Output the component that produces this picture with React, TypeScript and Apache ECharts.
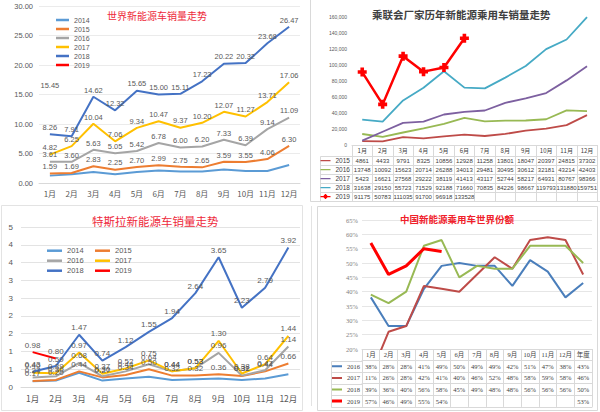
import React, { useEffect, useRef } from 'react';
import * as echarts from 'echarts';

// ---------- categories ----------
const months = ['1月', '2月', '3月', '4月', '5月', '6月', '7月', '8月', '9月', '10月', '11月', '12月'];
const shareCats = [...months, '年度'];

// ---------- 世界新能源车销量走势 (万辆) ----------
const worldYears = ['2014', '2015', '2016', '2017', '2018', '2019'];
const world2014 = [1.25, 1.5, 1.88, 1.48, 1.88, 2.1, 1.95, 1.95, 2.3, 2.03, 2.03, 3.05];
const world2015 = [1.59, 1.69, 2.83, 2.25, 2.7, 2.99, 2.75, 2.65, 3.59, 3.55, 4.06, 6.3];
const world2016 = [3.61, 3.6, 5.63, 5.05, 5.42, 6.78, 6.0, 6.2, 7.33, 6.39, 9.14, 11.09];
const world2017 = [4.82, 6.25, 10.04, 7.06, 9.34, 10.47, 9.37, 10.2, 12.07, 11.27, 13.71, 17.06];
const world2018 = [8.26, 7.91, 14.62, 12.32, 15.65, 15.0, 15.11, 17.23, 20.22, 20.32, 23.68, 26.47];
const world2019 = [15.45];

// ---------- 乘联会厂家历年新能源乘用车销量 ----------
const pcYears = ['2015', '2016', '2017', '2018', '2019'];
const pc2015 = [4861, 4433, 9791, 8325, 10856, 12928, 11258, 13801, 18047, 20397, 24815, 37302];
const pc2016 = [13748, 10092, 15623, 20714, 26288, 34013, 29481, 30495, 30612, 32181, 43214, 42403];
const pc2017 = [5423, 16621, 27568, 29222, 38119, 41413, 43117, 52744, 58217, 64931, 80767, 98366];
const pc2018 = [31638, 29150, 55723, 71529, 92188, 71660, 70835, 84226, 98667, 119793, 131880, 159751];
const pc2019 = [91175, 50783, 111035, 91700, 96918, 133528, null, null, null, null, null, null];

// ---------- 特斯拉新能源车销量走势 (万辆) ----------
const teslaYears = ['2014', '2015', '2016', '2017', '2018', '2019'];
const tesla2014 = [0.16, 0.18, 0.4, 0.18, 0.24, 0.29, 0.2, 0.22, 0.24, 0.2, 0.24, 0.36];
const tesla2015 = [0.17, 0.2, 0.44, 0.27, 0.34, 0.5, 0.32, 0.32, 0.36, 0.31, 0.44, 0.66];
const tesla2016 = [0.27, 0.3, 0.68, 0.3, 0.44, 0.64, 0.44, 0.53, 0.96, 0.32, 0.47, 1.14];
const tesla2017 = [0.4, 0.39, 0.97, 0.37, 0.52, 0.75, 0.44, 0.53, 1.3, 0.38, 0.64, 1.44];
const tesla2018 = [0.43, 0.59, 1.47, 0.74, 1.12, 1.55, 1.94, 2.64, 3.65, 2.23, 2.79, 3.92];
const tesla2019 = [0.98, 0.8];

// ---------- 中国新能源乘用车世界份额 (%) ----------
const shareYears = ['2016', '2017', '2018', '2019'];
const share2016 = [38, 28, 28, 41, 49, 50, 49, 49, 42, 51, 47, 38, 43];
const share2017 = [11, 26, 28, 42, 41, 40, 46, 52, 48, 58, 59, 58, 46];
const share2018 = [39, 36, 40, 56, 58, 45, 49, 48, 48, 56, 56, 56, 50];
const share2019 = [57, 46, 49, 55, 54, null, null, null, null, null, null, null, 53];

// ---------- styling / layout ----------
const LAT = "'Liberation Sans', 'Noto Sans CJK SC', sans-serif";
const CJK = "'Noto Sans CJK SC', 'Liberation Sans', sans-serif";
const SERIF = "'Liberation Serif', 'Noto Sans CJK SC', serif";
const GRAY = '#595959';
const LINE = '#d9d9d9';

const TL = { left: 39, top: 6, width: 261, height: 177 };
const TR = { left: 352, top: 17, width: 246, height: 128 };
const BL = { left: 21, top: 227, width: 279, height: 160 };
const BR = { left: 362, top: 220, width: 230, height: 129 };
const TR_HEAD = 11;
const TR_ROW = 9;
const BR_HEAD = 11.5;
const BR_ROW = 11.6;

const worldColors = ['#5B9BD5', '#ED7D31', '#A5A5A5', '#FFC000', '#4472C4', '#FF0000'];
const pcColors = ['#BE4B48', '#98B954', '#7D60A0', '#46AAC5', '#FF0000'];
const shareColors = ['#4A7EBB', '#BE4B48', '#98B954', '#FF0000'];

const ICON_LINE = 'path://M0,0h0.01v0.01h-0.01z M0,2.9h10v1.3h-10z M10,7h-0.01v-0.01h0.01z';
const ICON_PLUS = 'path://M0,0h0.01v0.01h-0.01z M0,2.9h10v1.3h-10z M3.3,2.1h3.4v2.9h-3.4z M4.2,1.1h1.6v4.9h-1.6z M10,7h-0.01v-0.01h0.01z';
const ICON_L2 = 'path://M0,0h0.01v0.01h-0.01z M0,2.5h10v2h-10z M10,7h-0.01v-0.01h0.01z';
const ICON_L3 = 'path://M0,0h0.01v0.01h-0.01z M0,2h10v3h-10z M10,7h-0.01v-0.01h0.01z';
const PLUS_SYMBOL = 'path://M3,0h4v3h3v4h-3v3h-4v-3h-3v-4h3z';

function lineSeries(
  name: string, data: (number | null)[], color: string, width: number,
  xAxisIndex: number, yAxisIndex: number, labelSize: number | null
) {
  return {
    type: 'line', name, data, xAxisIndex, yAxisIndex,
    symbol: 'circle', symbolSize: 0, showSymbol: true, showAllSymbol: true,
    lineStyle: { color, width }, itemStyle: { color },
    silent: true,
    label: labelSize
      ? {
          show: true, position: 'top', distance: 3, fontSize: labelSize, color: GRAY, fontFamily: LAT,
          formatter: (p: any) => (typeof p.value === 'number' ? p.value.toFixed(2) : ''),
        }
      : { show: false },
  };
}

function rowAxis(gridIndex: number, offset: number, data: string[], fontSize: number, font: string, margin: number) {
  return {
    type: 'category', gridIndex, position: 'bottom', offset, data, boundaryGap: true,
    axisLine: { show: true, lineStyle: { color: LINE, width: 1 } },
    axisTick: { show: false }, splitLine: { show: false },
    axisLabel: { interval: 0, margin, fontSize, fontFamily: font, color: '#404040' },
  };
}

function buildOption() {
  const trBottom = TR.top + TR.height;
  const brBottom = BR.top + BR.height;
  const pcRows = [pc2015, pc2016, pc2017, pc2018, pc2019];
  const shareRows = [share2016, share2017, share2018, share2019];

  const xAxis: any[] = [];
  // 0: top-left
  xAxis.push({
    type: 'category', gridIndex: 0, data: months, boundaryGap: true,
    axisLine: { lineStyle: { color: LINE } }, axisTick: { show: false },
    axisLabel: { interval: 0, fontSize: 8, color: GRAY, margin: 6, fontFamily: CJK },
  });
  // 1: top-right main (table header)
  xAxis.push({
    type: 'category', gridIndex: 1, data: months, boundaryGap: true, position: 'bottom',
    axisLine: { lineStyle: { color: LINE } },
    axisTick: { show: true, interval: 0, alignWithLabel: false, length: TR_HEAD + TR_ROW * pcRows.length, lineStyle: { color: LINE } },
    axisLabel: { interval: 0, fontSize: 6, color: '#404040', margin: 2.5, fontFamily: CJK },
  });
  // 2..6: top-right rows, 7: bottom border
  pcRows.forEach((row, k) => {
    xAxis.push(rowAxis(1, TR_HEAD + TR_ROW * k, row.map(v => (v == null ? '' : String(v))), 6, LAT, 1.5));
  });
  xAxis.push(rowAxis(1, TR_HEAD + TR_ROW * pcRows.length, months.map(() => ''), 6, LAT, 1.5));
  // 8: bottom-left
  xAxis.push({
    type: 'category', gridIndex: 2, data: months, boundaryGap: true,
    axisLine: { lineStyle: { color: LINE } }, axisTick: { show: false },
    axisLabel: { interval: 0, fontSize: 8.5, color: GRAY, margin: 7, fontFamily: CJK },
  });
  // 9: bottom-right main
  xAxis.push({
    type: 'category', gridIndex: 3, data: shareCats, boundaryGap: true, position: 'bottom',
    axisLine: { lineStyle: { color: LINE } },
    axisTick: { show: true, interval: 0, alignWithLabel: false, length: BR_HEAD + BR_ROW * shareRows.length, lineStyle: { color: LINE } },
    axisLabel: { interval: 0, fontSize: 6.5, color: '#404040', margin: 2.5, fontFamily: SERIF },
  });
  // 10..13 rows, 14 bottom border
  shareRows.forEach((row, k) => {
    xAxis.push(rowAxis(3, BR_HEAD + BR_ROW * k, row.map(v => (v == null ? '' : v + '%')), 6.5, SERIF, 2.5));
  });
  xAxis.push(rowAxis(3, BR_HEAD + BR_ROW * shareRows.length, shareCats.map(() => ''), 6.5, SERIF, 2.5));

  const yAxis: any[] = [
    {
      type: 'value', gridIndex: 0, min: 0, max: 30, interval: 5,
      axisLine: { show: false }, axisTick: { show: false },
      splitLine: { lineStyle: { color: '#ebebeb' } },
      axisLabel: { formatter: (v: number) => v.toFixed(2), fontSize: 7.5, color: GRAY, margin: 6, fontFamily: LAT },
    },
    {
      type: 'value', gridIndex: 1, min: 0, max: 160000, interval: 20000,
      axisLine: { show: false }, axisTick: { show: false }, splitLine: { show: false },
      axisLabel: { fontSize: 5, color: GRAY, margin: 5, fontFamily: LAT },
    },
    {
      type: 'value', gridIndex: 2, min: 0, max: 4.5, interval: 0.5,
      axisLine: { show: false }, axisTick: { show: false },
      splitLine: { lineStyle: { color: '#e3e3e3' } },
      axisLabel: { formatter: (v: number) => String(Math.round(v)), fontSize: 8, color: GRAY, margin: 8, fontFamily: LAT },
    },
    {
      type: 'value', gridIndex: 3, min: 20, max: 65, interval: 5,
      axisLine: { show: false }, axisTick: { show: false },
      splitLine: { lineStyle: { color: '#e6e6e6' } },
      axisLabel: { formatter: (v: number) => v + '%', fontSize: 6.5, color: '#7f7f7f', margin: 4, fontFamily: SERIF },
    },
  ];

  const worldData = [world2014, world2015, world2016, world2017, world2018, world2019];
  const teslaData = [tesla2014, tesla2015, tesla2016, tesla2017, tesla2018, tesla2019];

  const series: any[] = [];
  worldYears.forEach((y, i) => {
    series.push(lineSeries('a' + y, worldData[i], worldColors[i], 2, 0, 0, i === 0 ? null : 7.5));
  });
  pcYears.forEach((y, i) => {
    const s: any = lineSeries('b' + y, pcRows[i], pcColors[i], i === 4 ? 2.5 : 1.8, 1, 1, null);
    if (i === 4) {
      s.symbol = PLUS_SYMBOL;
      s.symbolSize = 9;
    }
    series.push(s);
  });
  teslaYears.forEach((y, i) => {
    series.push(lineSeries('c' + y, teslaData[i], worldColors[i], 2, 8, 2, i === 0 ? null : 8));
  });
  shareYears.forEach((y, i) => {
    series.push(lineSeries('d' + y, shareRows[i], shareColors[i], i === 3 ? 3 : 2, 9, 3, null));
  });

  const strip = (n: string) => n.slice(1);
  const legendBase = {
    selectedMode: false, padding: 0, formatter: strip, itemStyle: { borderWidth: 0 },
  };

  const legend: any[] = [
    {
      ...legendBase, orient: 'vertical', left: 56, top: 15.5, itemWidth: 13, itemHeight: 2.5, itemGap: 0, icon: 'rect',
      data: worldYears.map(y => 'a' + y),
      textStyle: { fontSize: 7, color: GRAY, lineHeight: 9, fontFamily: LAT },
    },
    {
      ...legendBase, orient: 'vertical', left: 320.5, top: trBottom + TR_HEAD, itemWidth: 10, itemHeight: 7, itemGap: 0,
      data: pcYears.map((y, i) => ({ name: 'b' + y, icon: i === 4 ? ICON_PLUS : ICON_LINE })),
      textStyle: { fontSize: 6.5, color: '#404040', lineHeight: TR_ROW, fontFamily: LAT },
    },
    ...[0, 1, 2].map(r => ({
      ...legendBase, orient: 'horizontal', left: 47, top: 245.7 + r * 10, itemWidth: 15, itemHeight: 2.5, itemGap: 11.3, icon: 'rect',
      data: teslaYears.slice(r * 2, r * 2 + 2).map(y => 'c' + y),
      textStyle: { fontSize: 7.5, color: GRAY, lineHeight: 10, fontFamily: LAT },
    })),
    {
      ...legendBase, orient: 'vertical', left: 332, top: brBottom + BR_HEAD, itemWidth: 10, itemHeight: 7, itemGap: 0,
      data: shareYears.map((y, i) => ({ name: 'd' + y, icon: i === 3 ? ICON_L3 : ICON_L2 })),
      textStyle: { fontSize: 6.5, color: '#404040', lineHeight: BR_ROW, fontFamily: SERIF },
    },
  ];

  const title: any[] = [
    { text: '世界新能源车销量走势', left: 107, top: 10.5, padding: 0, textStyle: { fontSize: 10, color: '#EE2A3C', fontWeight: 'normal', fontFamily: CJK } },
    { text: '乘联会厂家历年新能源乘用车销量走势', left: 372, top: 9, padding: 0, textStyle: { fontSize: 10.5, color: '#404040', fontWeight: 'bold', fontFamily: CJK } },
    { text: '特斯拉新能源车销量走势', left: 92, top: 215.5, padding: 0, textStyle: { fontSize: 11.5, color: '#EE2A3C', fontWeight: 'normal', fontFamily: CJK } },
    { text: '中国新能源乘用车世界份额', left: 400, top: 214.5, padding: 0, textStyle: { fontSize: 9.5, color: '#F0202A', fontWeight: 'bold', fontFamily: CJK } },
  ];

  // structural lines: panel frames and first table column
  const graphic: any[] = [];
  const ln = (x1: number, y1: number, x2: number, y2: number, stroke = LINE) => ({
    type: 'line', silent: true, shape: { x1, y1, x2, y2 }, style: { stroke, lineWidth: 1 },
  });
  graphic.push(ln(310.5, 0, 310.5, 201.5));
  graphic.push(ln(310.5, 201.5, 600, 201.5));
  graphic.push({ type: 'rect', silent: true, shape: { x: 317.5, y: 206.5, width: 280, height: 204 }, style: { fill: 'none', stroke: LINE, lineWidth: 1 } });
  graphic.push(ln(311.5, 206, 311.5, 406, '#e3e3e3'));
  graphic.push({ type: 'rect', silent: true, shape: { x: 1.5, y: 205.5, width: 301, height: 205 }, style: { fill: 'none', stroke: '#e3e3e3', lineWidth: 1 } });
  const trX0 = 320.5;
  for (let k = 0; k <= pcRows.length; k++) {
    const y = Math.round(trBottom + TR_HEAD + TR_ROW * k) + 0.5;
    graphic.push(ln(trX0, y, TR.left, y));
  }
  graphic.push(ln(trX0, Math.round(trBottom + TR_HEAD) + 0.5, trX0, Math.round(trBottom + TR_HEAD + TR_ROW * pcRows.length) + 0.5));
  const brX0 = 331.5;
  for (let k = 0; k <= shareRows.length; k++) {
    const y = Math.round(brBottom + BR_HEAD + BR_ROW * k) + 0.5;
    graphic.push(ln(brX0, y, BR.left, y));
  }
  graphic.push(ln(brX0, Math.round(brBottom + BR_HEAD) + 0.5, brX0, Math.round(brBottom + BR_HEAD + BR_ROW * shareRows.length) + 0.5));

  return {
    animation: false,
    backgroundColor: '#ffffff',
    textStyle: { fontFamily: LAT },
    title,
    legend,
    grid: [
      { ...TL, containLabel: false },
      { ...TR, containLabel: false },
      { ...BL, containLabel: false },
      { ...BR, containLabel: false },
    ],
    xAxis,
    yAxis,
    series,
    graphic,
  };
}

export default function App() {
  const ref = useRef<HTMLDivElement>(null);
  useEffect(() => {
    if (!ref.current) return;
    const chart = echarts.init(ref.current, null, { renderer: 'svg' });
    chart.setOption(buildOption() as any);
    return () => chart.dispose();
  }, []);
  return (
    <div
      ref={ref}
      style={{ position: 'fixed', left: 0, top: 0, width: 600, height: 412, background: '#fff' }}
    />
  );
}
